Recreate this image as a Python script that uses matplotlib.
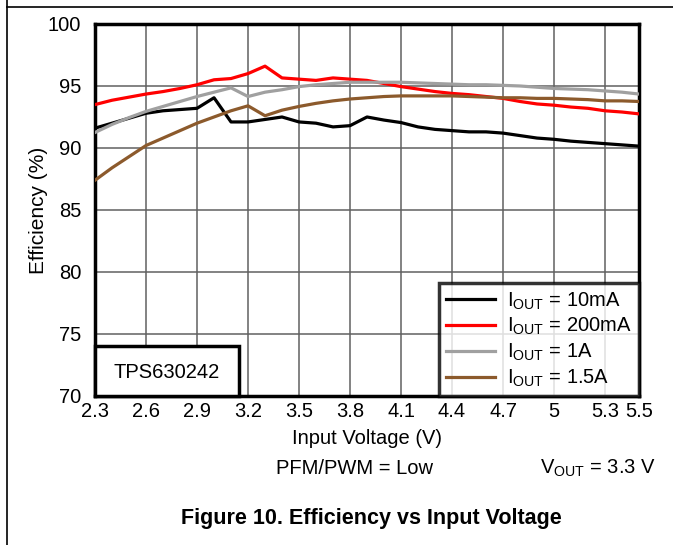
import matplotlib
matplotlib.use("Agg")
import matplotlib.pyplot as plt
from matplotlib.lines import Line2D
from matplotlib.patches import Rectangle

plt.rcParams["font.family"] = ["Liberation Sans", "DejaVu Sans"]
plt.rcParams["mathtext.fontset"] = "custom"
plt.rcParams["mathtext.rm"] = "Liberation Sans"

# input voltage (V)
vin = [2.3, 2.4, 2.5, 2.6, 2.7, 2.8, 2.9, 3.0, 3.1, 3.2, 3.3, 3.4, 3.5, 3.6, 3.7,
       3.8, 3.9, 4.0, 4.1, 4.2, 4.3, 4.4, 4.5, 4.6, 4.7, 4.8, 4.9, 5.0, 5.1, 5.2,
       5.3, 5.4, 5.5]

# efficiency (%)
eff_10ma = [91.6, 92.0, 92.4, 92.8, 93.0, 93.1, 93.2, 94.05, 92.1, 92.1, 92.3,
            92.5, 92.1, 92.0, 91.7, 91.8, 92.5, 92.25, 92.05, 91.7, 91.5, 91.4,
            91.3, 91.3, 91.2, 91.0, 90.8, 90.7, 90.55, 90.45, 90.35, 90.25, 90.15]
eff_200ma = [93.5, 93.85, 94.1, 94.35, 94.55, 94.8, 95.1, 95.5, 95.6, 96.0, 96.6,
             95.65, 95.55, 95.45, 95.65, 95.55, 95.45, 95.2, 94.95, 94.75, 94.55,
             94.4, 94.3, 94.15, 94.0, 93.75, 93.55, 93.45, 93.3, 93.2, 93.0,
             92.9, 92.75]
eff_1a = [91.25, 91.9, 92.45, 92.95, 93.35, 93.75, 94.15, 94.5, 94.85, 94.15,
          94.5, 94.7, 94.95, 95.1, 95.2, 95.3, 95.3, 95.3, 95.3, 95.25, 95.2,
          95.15, 95.1, 95.1, 95.05, 95.0, 94.9, 94.8, 94.75, 94.7, 94.6, 94.5,
          94.35]
eff_1p5a = [87.4, 88.4, 89.3, 90.2, 90.8, 91.4, 92.0, 92.5, 93.0, 93.4, 92.6,
            93.05, 93.35, 93.6, 93.8, 93.95, 94.05, 94.15, 94.2, 94.2, 94.2,
            94.2, 94.15, 94.1, 94.05, 94.05, 94.0, 94.0, 93.95, 93.9, 93.8,
            93.8, 93.75]

series = [
    (eff_10ma, "#000000", r"I$_{\mathregular{OUT}}$ = 10mA"),
    (eff_200ma, "#ff0000", r"I$_{\mathregular{OUT}}$ = 200mA"),
    (eff_1a, "#a0a0a0", r"I$_{\mathregular{OUT}}$ = 1A"),
    (eff_1p5a, "#8c5a2c", r"I$_{\mathregular{OUT}}$ = 1.5A"),
]

xticks = [2.3, 2.6, 2.9, 3.2, 3.5, 3.8, 4.1, 4.4, 4.7, 5.0, 5.3, 5.5]
xticklabels = ["2.3", "2.6", "2.9", "3.2", "3.5", "3.8", "4.1", "4.4", "4.7",
               "5", "5.3", "5.5"]
yticks = [70, 75, 80, 85, 90, 95, 100]

FS = 14.5

fig = plt.figure(figsize=(6.73, 5.45), dpi=100)
ax = fig.add_axes([0.1412, 0.2734, 0.8083, 0.6826])

for y, c, lab in series:
    ax.plot(vin, y, color=c, lw=2.3, label=lab, zorder=3)

ax.set_xlim(2.3, 5.5)
ax.set_ylim(70, 100)
ax.set_xticks(xticks)
ax.set_xticklabels(xticklabels)
ax.set_yticks(yticks)
ax.tick_params(length=0, labelsize=FS)
ax.tick_params(axis="x", pad=4)
ax.tick_params(axis="y", pad=10)
ax.grid(True, color="#606060", lw=1.1)
for s in ax.spines.values():
    s.set_linewidth(2.5)

ax.set_xlabel("Input Voltage (V)", fontsize=FS, labelpad=6)
ax.set_ylabel("Efficiency (%)", fontsize=15, labelpad=0)

leg = ax.legend(loc="lower right", fontsize=FS, frameon=True, fancybox=False,
                edgecolor="black", borderpad=0.35, labelspacing=0.22,
                handlelength=2.45, borderaxespad=0, handletextpad=0.6)
leg.get_frame().set_linewidth(2.5)
leg.set_zorder(5)

# device name box
ax.add_patch(Rectangle((2.3, 70), 0.848, 4.0, facecolor="white",
                       edgecolor="black", lw=2.5, zorder=4, clip_on=False))
ax.text(2.3 + 0.424, 71.9, "TPS630242", fontsize=FS, ha="center",
        va="center", zorder=6)

fig.text(0.527, 0.141, "PFM/PWM = Low", fontsize=FS, ha="center", va="center")
fig.text(0.974, 0.141, r"V$_{\mathregular{OUT}}$ = 3.3 V", fontsize=FS,
         ha="right", va="center")
fig.text(0.552, 0.049, "Figure 10. Efficiency vs Input Voltage",
         fontsize=15.5, fontweight="bold", ha="center", va="center")

# page borders
fig.add_artist(Line2D([0.0111, 0.0111], [0, 1], color="black", lw=1.2,
                      transform=fig.transFigure))
fig.add_artist(Line2D([0.0111, 1], [0.987, 0.987], color="black", lw=1.2,
                      transform=fig.transFigure))

fig.savefig("out.png", dpi=100)
